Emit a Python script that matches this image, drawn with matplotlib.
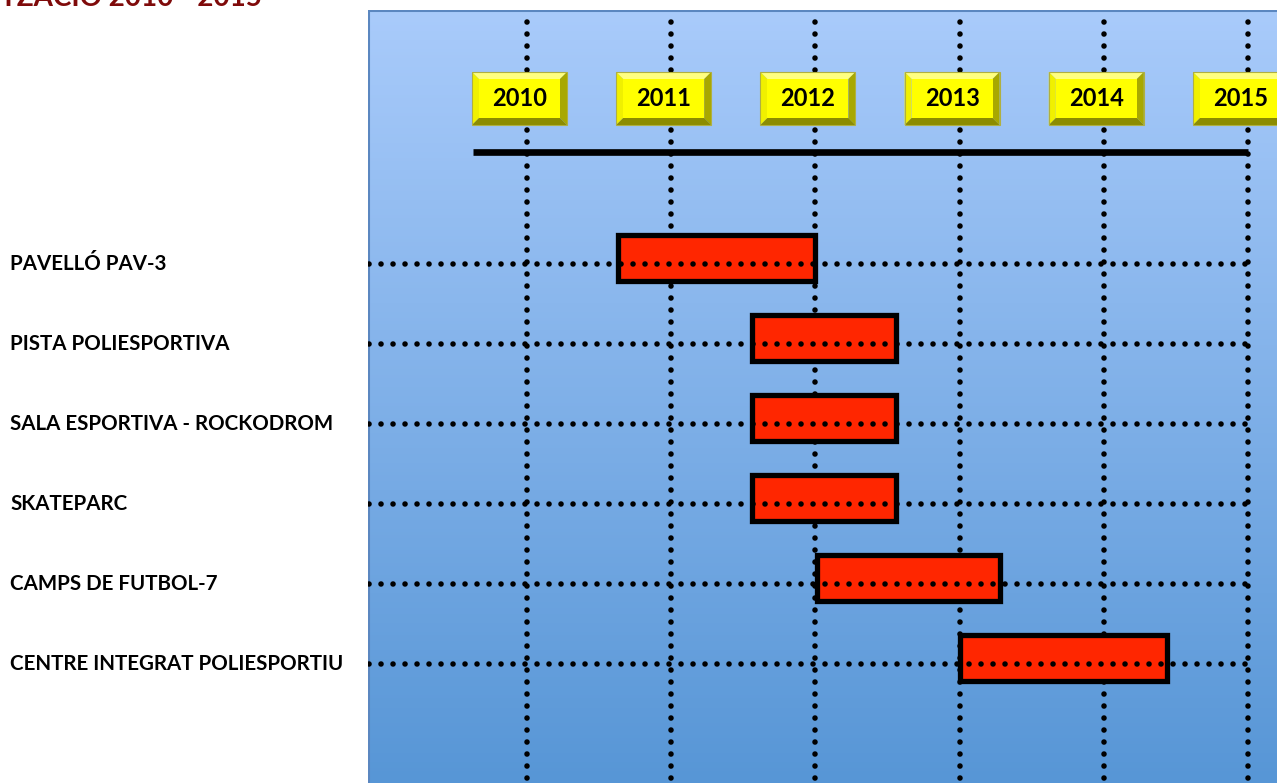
import numpy as np
import matplotlib.pyplot as plt
from matplotlib.patches import Rectangle, Polygon
from matplotlib.transforms import blended_transform_factory

# Chart data
projects = ['PAVELLÓ PAV-3', 'PISTA POLIESPORTIVA', 'SALA ESPORTIVA - ROCKODROM',
            'SKATEPARC', 'CAMPS DE FUTBOL-7', 'CENTRE INTEGRAT POLIESPORTIU']
start = [2010.63, 2011.56, 2011.56, 2011.56, 2012.01, 2013.0]
end = [2012.0, 2012.56, 2012.56, 2012.56, 2013.28, 2014.44]
years = [2010, 2011, 2012, 2013, 2014, 2015]
title = 'TEMPORALITZACIÓ 2010 - 2015'

plt.rcParams['font.family'] = ['Lato', 'DejaVu Sans']

W, H = 1277, 783
fig = plt.figure(figsize=(W / 100, H / 100), dpi=100)

# panel from x=368..1277, y=10..783 (pixels)
ax = fig.add_axes([368 / W, 0, 1 - 368 / W, (H - 10) / H])
px_year = 144.2
row_px = 80.0
x0 = 2010 - (527 - 368) / px_year
x1 = 2010 + (1277 - 527) / px_year
y_top = -(264 - 10) / row_px
y_bot = (783 - 264) / row_px
ax.set_xlim(x0, x1)
ax.set_ylim(y_bot, y_top)
ax.axis('off')

# gradient background
grad = np.linspace(0, 1, 256).reshape(-1, 1)
c_top = np.array([0xa9, 0xcb, 0xfb]) / 255
c_bot = np.array([0x57, 0x96, 0xd6]) / 255
img = c_top + grad[..., None] * (c_bot - c_top)
ax.imshow(img, extent=[x0, x1, y_bot, y_top], aspect='auto', zorder=0)
ax.plot([x0 + 0.005, x0 + 0.005], [y_bot, y_top], color='#5b87c0', lw=1.5, zorder=1)
ax.plot([x0, x1], [y_top + 0.01, y_top + 0.01], color='#5b87c0', lw=1.5, zorder=1)

dot = dict(color='black', lw=4.0, dashes=(0.01, 2.15), dash_capstyle='round')

# vertical dotted lines
for yr in years:
    ax.plot([yr, yr], [y_top + 0.15, y_bot], zorder=2, **dot)

# timeline
ax.plot([2009.625, 2015.0], [-1.4, -1.4], color='black', lw=4.8,
        solid_capstyle='butt', zorder=3)

# year boxes with bevel
bw, bh, bev = 95 / px_year, 53 / row_px, 7
for yr in years:
    cx = yr - 7.5 / px_year
    xl, xr = cx - bw / 2, cx + bw / 2
    yt, yb = -2.4, -2.4 + bh
    dx, dy = bev / px_year, bev / row_px
    ax.add_patch(Polygon([(xl, yt), (xr, yt), (xr - dx, yt + dy), (xl + dx, yt + dy)],
                         facecolor='#ffff80', edgecolor='none', zorder=4))
    ax.add_patch(Polygon([(xl, yt), (xl + dx, yt + dy), (xl + dx, yb - dy), (xl, yb)],
                         facecolor='#f0f000', edgecolor='none', zorder=4))
    ax.add_patch(Polygon([(xr, yt), (xr, yb), (xr - dx, yb - dy), (xr - dx, yt + dy)],
                         facecolor='#a8a800', edgecolor='none', zorder=4))
    ax.add_patch(Polygon([(xl, yb), (xr, yb), (xr - dx, yb - dy), (xl + dx, yb - dy)],
                         facecolor='#8c8c00', edgecolor='none', zorder=4))
    ax.add_patch(Rectangle((xl + dx, yt + dy), bw - 2 * dx, bh - 2 * dy,
                           facecolor='#ffff00', edgecolor='none', zorder=4))
    ax.add_patch(Rectangle((xl, yt), bw, bh, facecolor='none',
                           edgecolor='#b0b040', lw=0.8, zorder=4))
    ax.text(cx, yt + bh / 2, str(yr), ha='center', va='center', fontsize=17,
            fontweight='bold', color='black', zorder=5)

# bars (sit slightly above the row line)
bar_h = 0.58
bar_off = -0.075
for i in range(len(projects)):
    ax.add_patch(Rectangle((start[i], i + bar_off - bar_h / 2), end[i] - start[i], bar_h,
                           facecolor='#ff2600', edgecolor='black', lw=3.8,
                           zorder=6))

# horizontal dotted lines
for i in range(len(projects)):
    ax.plot([x0 + 0.01, 2015.0], [i, i], zorder=7, **dot)

# row labels
lab_tr = blended_transform_factory(fig.transFigure, ax.transData)
for i, name in enumerate(projects):
    ax.text(10 / W, i, name, transform=lab_tr, ha='left', va='center',
            fontsize=14.8, fontweight='bold', color='black', clip_on=False)

# clipped title at the top
fig.text(262 / W, 1 - 6 / H, title, ha='right', va='baseline', fontsize=20,
         fontweight='bold', color='#7f0a0a')

plt.savefig('out.png', dpi=100)
